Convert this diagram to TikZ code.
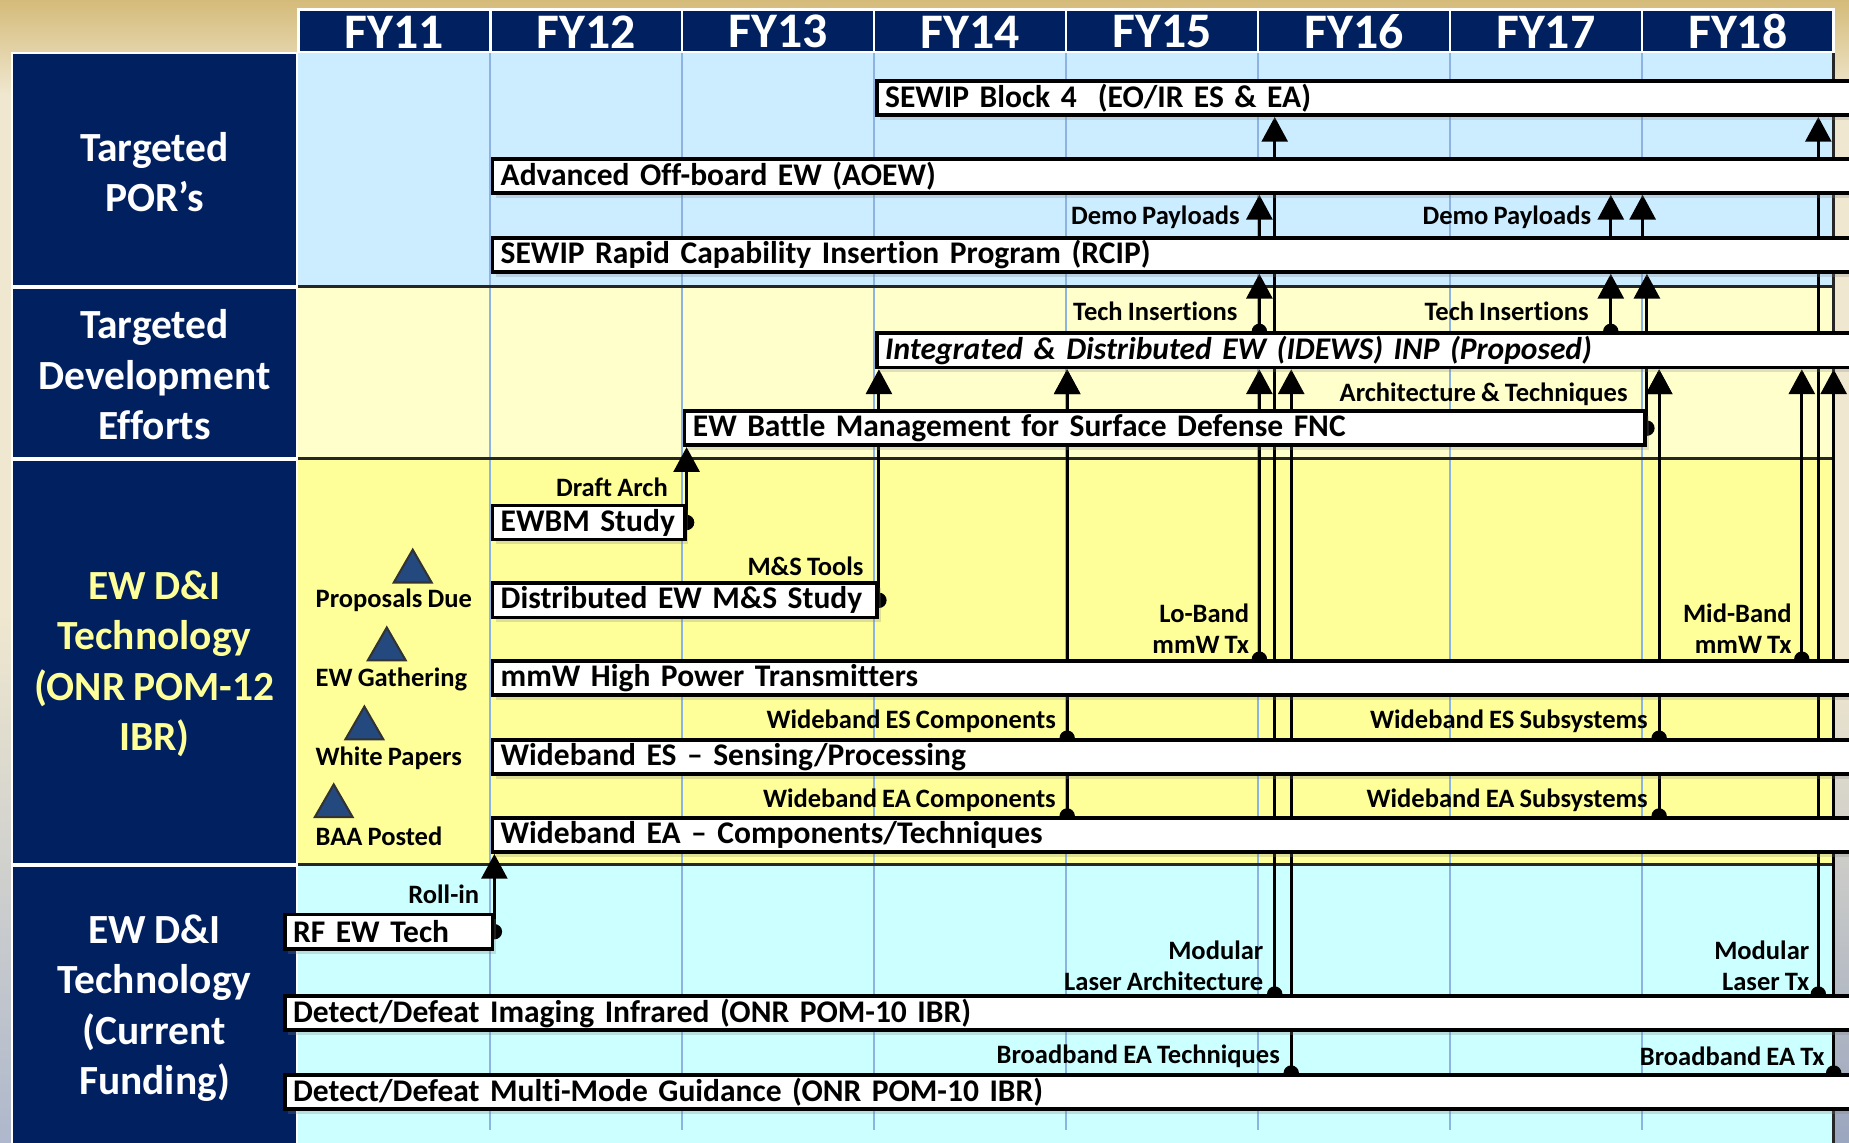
\documentclass[tikz,border=0pt]{standalone}
\usepackage{fontspec}
\setmainfont{Carlito}[WordSpace=0.85, Ligatures=NoCommon]
\usetikzlibrary{arrows.meta,shapes.geometric,shadows,positioning}

\definecolor{navy}{HTML}{002060}
\definecolor{porblue}{HTML}{CCECFF}
\definecolor{devyel}{HTML}{FFFFCC}
\definecolor{dniyel}{HTML}{FFFF99}
\definecolor{curcyan}{HTML}{CCFFFF}
\definecolor{divline}{HTML}{8DB3E2}
\definecolor{tricol}{HTML}{24497F}
\definecolor{parchtop}{HTML}{D5BB7A}
\definecolor{parchbot}{HTML}{EFE7CF}
\definecolor{edgegray}{HTML}{9AA6BF}

\pgfdeclarelayer{bg}
\pgfdeclarelayer{lines}
\pgfsetlayers{bg,lines,main}

\tikzset{
  navybox/.style={fill=navy, draw=white, line width=0.6pt},
  bar/.style={draw=black, line width=0.9pt, fill=white, anchor=north west,
    minimum height=0.29cm, inner xsep=0.07cm, inner ysep=0pt, align=left,
    font=\fontsize{7.6}{9}\selectfont\bfseries,
    drop shadow={opacity=0.25, shadow xshift=0.03cm, shadow yshift=-0.04cm}},
  lbl/.style={font=\fontsize{6.4}{7.4}\selectfont\bfseries, inner sep=0pt, yshift=-0.02cm},
  side/.style={text=white, align=center, font=\fontsize{10}{12.2}\selectfont\bfseries},
  year/.style={text=white, font=\fontsize{12}{14}\selectfont\bfseries},
  conn/.style={line width=0.7pt, -{Triangle[width=0.22cm,length=0.21cm]}},
  feed/.style={conn, {Circle[length=0.13cm]}-{Triangle[width=0.22cm,length=0.21cm]},
    shorten <=-0.065cm},
  mile/.style={regular polygon, regular polygon sides=3, minimum size=0.37cm,
    inner sep=0pt, fill=tricol, draw=black!80, line width=0.5pt},
}

\begin{document}
\begin{tikzpicture}[x=0.01cm, y=-0.01cm]
  \useasboundingbox (0,0) rectangle (1568,969);
  \clip (0,0) rectangle (1568,969);

  % backdrop, left labels, year header
  \begin{pgfonlayer}{bg}
    \fill[parchbot] (0,0) rectangle (1568,969);
    \shade[top color=parchtop, bottom color=parchbot] (0,0) rectangle (1568,80);
    \shade[top color=parchbot, bottom color=edgegray] (1555,560) rectangle (1568,969);
    \shade[top color=parchbot, bottom color=edgegray!80] (0,520) rectangle (10,969);
    \fill[porblue] (253,44) rectangle (1555,243);
    \fill[devyel] (253,243) rectangle (1555,389);
    \fill[dniyel] (253,389) rectangle (1555,733);
    \fill[curcyan] (253,733) rectangle (1555,969);
    \foreach \k in {1,...,7} {
      \draw[divline, line width=0.5pt] (253+\k*162.75,44) -- (253+\k*162.75,958);
    }
    \draw[black!85, line width=0.7pt] (253,243) -- (1555,243)
      (253,389) -- (1555,389) (253,733) -- (1555,733)
      (253,44) -- (1555,44) (1555,44) -- (1555,969);
    \draw[navybox] (10,45) rectangle (252,243);
    \draw[navybox] (10,244) rectangle (252,389);
    \draw[navybox] (10,390) rectangle (252,733);
    \draw[navybox] (10,734) rectangle (252,975);
    \foreach \i in {11,...,18} {
      \pgfmathsetmacro{\xl}{253+(\i-11)*162.75}
      \draw[navybox] (\xl,8) rectangle ++(162.75,36);
    }
  \end{pgfonlayer}

  \foreach \i in {11,...,18} {
    \pgfmathsetmacro{\xm}{253+(\i-11)*162.75+81.4}
    \node[year] (fy\i) at (\xm,27) {FY\i};
  }

  \node[side] (por) at (131,146) {Targeted\\POR’s};
  \node[side] (tde) at (131,318) {Targeted\\Development\\Efforts};
  \node[side, text=dniyel] (pom12) at (131,563) {EW D\&I\\Technology\\(ONR POM-12\\IBR)};
  \node[side] (curr) at (131,855) {EW D\&I\\Technology\\(Current\\Funding)};

  % program bars
  \node[bar, text width=8.24cm] (sewip4) at (742,67) {SEWIP Block 4\ \ (EO/IR ES \& EA)};
  \node[bar, text width=11.5cm] (aoew) at (416,133) {Advanced Off-board EW (AOEW)};
  \node[bar, text width=11.5cm] (rcip) at (416,200) {SEWIP Rapid Capability Insertion Program (RCIP)};
  \node[bar, text width=8.24cm, font=\fontsize{7.6}{9}\selectfont\bfseries\itshape] (idews) at (742,281)
    {Integrated \& Distributed EW (IDEWS) INP (Proposed)};
  \node[bar, text width=8cm] (fnc) at (579,347) {EW Battle Management for Surface Defense FNC};
  \node[bar, text width=1.49cm] (ewbm) at (416,427) {\mbox{EWBM Study}};
  \node[bar, text width=3.12cm] (mss) at (416,493) {\mbox{Distributed EW M\&S Study}};
  \node[bar, text width=11.5cm] (mmw) at (416,559) {mmW High Power Transmitters};
  \node[bar, text width=11.5cm] (wbes) at (416,626) {Wideband ES – Sensing/Processing};
  \node[bar, text width=11.5cm] (wbea) at (416,692) {Wideband EA – Components/Techniques};
  \node[bar, text width=1.62cm] (rfew) at (240,774) {\mbox{RF EW Tech}};
  \node[bar, text width=13.26cm] (ddiir) at (240,843) {Detect/Defeat Imaging Infrared (ONR POM-10 IBR)};
  \node[bar, text width=13.26cm] (ddmmg) at (240,910) {Detect/Defeat Multi-Mode Guidance (ONR POM-10 IBR)};

  % milestones
  \node[mile] (m1) at (350,484.7) {};
  \node[mile] (m2) at (328,550.7) {};
  \node[mile] (m3) at (309,617.7) {};
  \node[mile] (m4) at (283,683.7) {};
  \node[lbl, anchor=west] (prop) at (267,507) {Proposals Due};
  \node[lbl, anchor=west] (gath) at (267,574) {EW Gathering};
  \node[lbl, anchor=west] (wpap) at (267,641) {White Papers};
  \node[lbl, anchor=west] (baa) at (267,707) {BAA Posted};

  % transition labels
  \node[lbl, anchor=east] (dp1) at (1052,182) {Demo Payloads};
  \node[lbl, anchor=east] (dp2) at (1350,182) {Demo Payloads};
  \node[lbl, anchor=east] (ti1) at (1050,262) {Tech Insertions};
  \node[lbl, anchor=east] (ti2) at (1348,262) {Tech Insertions};
  \node[lbl, anchor=east] (arch) at (1381,332) {Architecture \& Techniques};
  \node[lbl, anchor=east] (draft) at (567,411) {Draft Arch};
  \node[lbl, anchor=east] (mstools) at (733,478) {M\&S Tools};
  \node[lbl, anchor=east, align=right] (loband) at (1060,531) {Lo-Band\\mmW Tx};
  \node[lbl, anchor=east, align=right] (midband) at (1520,531) {Mid-Band\\mmW Tx};
  \node[lbl, anchor=east] (wesc) at (896,610) {Wideband ES Components};
  \node[lbl, anchor=east] (wess) at (1398,610) {Wideband ES Subsystems};
  \node[lbl, anchor=east] (weac) at (896,677) {Wideband EA Components};
  \node[lbl, anchor=east] (weas) at (1398,677) {Wideband EA Subsystems};
  \node[lbl, anchor=east] (roll) at (407,756) {Roll-in};
  \node[lbl, anchor=east, align=right] (modarch) at (1072,817) {Modular\\Laser Architecture};
  \node[lbl, anchor=east, align=right] (modtx) at (1535,817) {Modular\\Laser Tx};
  \node[lbl, anchor=east] (bbtech) at (1086,894) {Broadband EA Techniques};
  \node[lbl, anchor=east] (bbtx) at (1548,894) {Broadband EA Tx};

  % columns of the transition arrows
  \coordinate (kComp) at (905,0);
  \coordinate (kLo) at (1068,0);
  \coordinate (kLaser) at (1081,0);
  \coordinate (kBbT) at (1095,0);
  \coordinate (kDemo) at (1366,0);
  \coordinate (kArch) at (1393,0);
  \coordinate (kSub) at (1407,0);
  \coordinate (kMid) at (1528,0);
  \coordinate (kLaserTx) at (1542,0);
  \coordinate (kBbTx) at (1555,0);

  \begin{pgfonlayer}{lines}
    \draw[conn] (rcip.north -| kLo) -- (aoew.south -| kLo);
    \draw[conn] (rcip.north -| kDemo) -- (aoew.south -| kDemo);
    \draw[conn] (rcip.north -| kArch) -- (aoew.south -| kArch);
    \draw[feed] (idews.north -| kLo) -- (rcip.south -| kLo);
    \draw[feed] (idews.north -| kDemo) -- (rcip.south -| kDemo);
    \draw[feed] (fnc.east) -- (rcip.south -| fnc.east);
    \draw[feed] (ewbm.east) -- (ewbm.east |- fnc.south);
    \draw[feed] (mss.east) -- (mss.east |- idews.south);
    \draw[feed] (rfew.east) -- (rfew.east |- wbea.south);
    \draw[feed] (wbes.north -| kComp) -- (idews.south -| kComp);
    \draw[feed] (wbea.north -| kComp) -- (idews.south -| kComp);
    \draw[feed] (mmw.north -| kLo) -- (idews.south -| kLo);
    \draw[feed] (ddiir.north -| kLaser) -- (sewip4.south -| kLaser);
    \draw[feed] (ddmmg.north -| kBbT) -- (idews.south -| kBbT);
    \draw[feed] (wbes.north -| kSub) -- (idews.south -| kSub);
    \draw[feed] (wbea.north -| kSub) -- (idews.south -| kSub);
    \draw[feed] (mmw.north -| kMid) -- (idews.south -| kMid);
    \draw[feed] (ddiir.north -| kLaserTx) -- (sewip4.south -| kLaserTx);
    \draw[feed] (ddmmg.north -| kBbTx) -- (idews.south -| kBbTx);
  \end{pgfonlayer}
\end{tikzpicture}
\end{document}
